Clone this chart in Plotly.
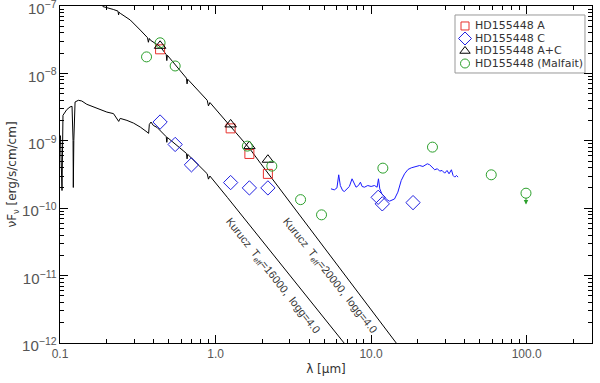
import math
import plotly.graph_objects as go

# photometry (wavelength in micron, nuFnu in erg/s/cm/cm)
wl_A = [0.44, 1.25, 1.65, 2.17]
f_A = [2.28e-8, 1.53e-9, 6.38e-10, 3.23e-10]

wl_C = [0.44, 0.55, 0.70, 1.25, 1.65, 2.17, 11.1, 11.8, 18.6]
f_C = [1.90e-9, 8.83e-10, 4.40e-10, 2.40e-10, 2.00e-10, 2.00e-10, 1.45e-10, 1.16e-10, 1.21e-10]

wl_AC = [0.44, 1.25, 1.65, 2.17]
f_AC = [2.57e-8, 1.75e-9, 8.34e-10, 5.24e-10]

wl_mal = [0.36, 0.44, 0.55, 1.60, 2.30, 3.52, 4.8, 11.9, 24.8, 59.2, 99.0]
f_mal = [1.76e-8, 2.85e-8, 1.29e-8, 8.34e-10, 4.21e-10, 1.34e-10, 7.97e-11, 3.93e-10, 8.06e-10, 3.13e-10, 1.67e-10]

# upper limit at 100 micron
ul_wl = 99.0
ul_from = 1.49e-10
ul_to = 1.13e-10

# mid-IR spectrum
wl_spec = [5.52, 5.80, 6.03, 6.19, 6.34, 6.56, 6.73, 7.00, 7.25, 7.54, 7.81, 8.00, 8.29, 8.54, 8.75,
           9.06, 9.52, 10.0, 10.5, 10.93, 11.15, 11.37, 11.72, 12.19, 12.68, 13.13, 13.59, 14.14, 14.86,
           15.62, 16.41, 17.25, 18.12, 19.04, 19.81, 20.50, 21.54, 22.98, 23.79, 24.63, 25.63, 26.66,
           27.60, 28.58, 29.72, 30.77, 31.70, 32.82, 33.65, 34.49, 35.35, 36.24]
f_spec = [1.94e-10, 1.87e-10, 2.00e-10, 3.13e-10, 2.17e-10, 1.83e-10, 1.77e-10, 1.94e-10, 2.10e-10,
          2.73e-10, 2.25e-10, 2.05e-10, 2.17e-10, 2.43e-10, 2.10e-10, 2.05e-10, 2.17e-10, 2.10e-10,
          2.17e-10, 2.05e-10, 2.73e-10, 1.94e-10, 1.63e-10, 1.46e-10, 1.33e-10, 1.27e-10, 1.30e-10,
          1.37e-10, 1.73e-10, 2.58e-10, 3.24e-10, 3.75e-10, 3.97e-10, 4.07e-10, 4.16e-10, 4.30e-10,
          4.16e-10, 4.56e-10, 4.41e-10, 4.07e-10, 3.72e-10, 3.85e-10, 3.55e-10, 3.63e-10, 3.31e-10,
          3.63e-10, 3.24e-10, 3.72e-10, 3.06e-10, 2.89e-10, 3.06e-10, 2.89e-10]

# Kurucz model, Teff=20000
wl_k20 = [0.17, 0.189, 0.220, 0.236, 0.238, 0.240, 0.244, 0.283, 0.328, 0.365, 0.370, 0.375, 0.381,
          0.442, 0.482, 0.486, 0.490, 0.552, 0.650, 0.656, 0.662, 0.884, 0.90, 0.92, 1.25, 1.66, 1.95, 14.5]
f_k20 = [1.3e-7, 9.8e-8, 8.9e-8, 8.4e-8, 7.4e-8, 8.1e-8, 7.8e-8, 6.2e-8, 4.4e-8, 3.4e-8, 2.9e-8, 3.3e-8,
         3.12e-8, 2.48e-8, 1.9e-8, 1.55e-8, 1.86e-8, 1.32e-8, 8.5e-9, 7.0e-9, 8.2e-9, 3.99e-9, 3.3e-9,
         3.7e-9, 1.60e-9, 7.62e-10, 4.61e-10, 1.0e-12]

# Kurucz model, Teff=16000
wl_k16 = [0.1007, 0.1030, 0.1045, 0.1105, 0.1160, 0.1195, 0.1213, 0.1218, 0.1227, 0.1250, 0.1312,
          0.138, 0.1487, 0.164, 0.181, 0.200, 0.2208, 0.2332, 0.2384, 0.2438, 0.2693, 0.2971, 0.328,
          0.3625, 0.3713, 0.3752, 0.3847, 0.398, 0.4206, 0.482, 0.486, 0.490, 0.552, 0.650, 0.656,
          0.662, 0.884, 0.90, 0.92, 1.19, 6.70]
f_k16 = [1.20e-9, 1.83e-10, 2.39e-9, 2.90e-9, 3.18e-9, 3.25e-9, 1.01e-9, 2.03e-10, 1.01e-9, 3.77e-9,
         3.99e-9, 3.90e-9, 3.48e-9, 3.18e-9, 2.90e-9, 2.67e-9, 2.53e-9, 2.15e-9, 1.94e-9, 2.15e-9,
         2.01e-9, 1.83e-9, 1.60e-9, 1.35e-9, 1.29e-9, 1.75e-9, 1.90e-9, 1.69e-9, 1.58e-9, 1.15e-9,
         9.5e-10, 1.12e-9, 8.83e-10, 6.5e-10, 5.4e-10, 6.3e-10, 3.24e-10, 2.7e-10, 3.0e-10, 1.45e-10, 1.0e-12]

legend_names = ["HD155448 A", "HD155448 C", "HD155448 A+C", "HD155448 (Malfait)"]

RED, BLUE, GREEN = "#e8322e", "#2020e0", "#2ca02c"
FONT = "DejaVu Sans, Arial"
TICKFONT = "Liberation Sans, Arial"

fig = go.Figure()

fig.add_trace(go.Scatter(x=wl_k20, y=f_k20, mode="lines", line=dict(color="black", width=1),
                         showlegend=False, hoverinfo="skip"))
fig.add_trace(go.Scatter(x=wl_k16, y=f_k16, mode="lines", line=dict(color="black", width=1),
                         showlegend=False, hoverinfo="skip"))
fig.add_trace(go.Scatter(x=wl_spec, y=f_spec, mode="lines", line=dict(color="#1a1aff", width=1),
                         showlegend=False))

styles = [("square-open", 9, RED), ("diamond-open", 11, BLUE),
          ("triangle-up-open", 10, "black"), ("circle-open", 10, GREEN)]
series = [(wl_A, f_A), (wl_C, f_C), (wl_AC, f_AC), (wl_mal, f_mal)]
for (sym, sz, col), (xs, ys), nm in zip(styles, series, legend_names):
    fig.add_trace(go.Scatter(x=xs, y=ys, mode="markers", name=nm, showlegend=False,
                             marker=dict(symbol=sym, size=sz, color=col, line=dict(width=1))))

# upper limit arrow
fig.add_annotation(x=math.log10(ul_wl), y=math.log10(ul_to), ax=math.log10(ul_wl), ay=math.log10(ul_from),
                   xref="x", yref="y", axref="x", ayref="y", showarrow=True, arrowhead=2,
                   arrowsize=0.9, arrowwidth=1, arrowcolor=GREEN, text="")

txtfont = dict(family="Liberation Sans, Arial", size=11, color="#333")
fig.add_annotation(x=0.368, y=-11.0, xref="x", yref="y", showarrow=False, textangle=51.5,
                   text="Kurucz  T<sub>eff</sub>=16000,  logg=4.0", font=txtfont)
fig.add_annotation(x=0.7355, y=-11.0, xref="x", yref="y", showarrow=False, textangle=51.5,
                   text="Kurucz  T<sub>eff</sub>=20000,  logg=4.0", font=txtfont)

# hand-made legend on an overlay axis (paper-like 0..1 coordinates)
lx_sym, lx_txt = 0.7613, 0.7763
ly = [0.9407, 0.9036, 0.8665, 0.8294]
for (sym, sz, col), nm, yy in zip(styles, legend_names, ly):
    fig.add_trace(go.Scatter(x=[lx_sym], y=[yy], xaxis="x2", yaxis="y2", mode="markers",
                             showlegend=False, hoverinfo="skip",
                             marker=dict(symbol=sym, size=sz - 1, color=col, line=dict(width=1))))
    fig.add_annotation(x=lx_txt, y=yy, xref="paper", yref="paper", xanchor="left", yanchor="middle",
                       showarrow=False, text=nm, font=dict(family=FONT, size=11, color="#333"))
fig.add_shape(type="rect", xref="paper", yref="paper", x0=0.7425, x1=0.9868, y0=0.8012, y1=0.9733,
              line=dict(color="#999", width=1), fillcolor="rgba(0,0,0,0)", layer="below")

axis_common = dict(showline=True, linecolor="black", linewidth=1, mirror="allticks", ticks="inside",
                   ticklen=8, tickcolor="black", showgrid=False, zeroline=False, automargin=False,
                   dtick=1, tickfont=dict(family=TICKFONT, size=12, color="#555"),
                   ticklabeloverflow="allow",
                   minor=dict(ticks="inside", ticklen=4, tickcolor="black", showgrid=False, dtick="D1"))

fig.update_xaxes(type="log", range=[-1, 2.42], tickformat=".1f",
                 title=dict(text="λ [μm]", font=dict(family=FONT, size=12, color="#333"), standoff=4),
                 **axis_common)
fig.update_yaxes(type="log", range=[-12.0005, -6.9995], exponentformat="power", ticklabelshift=3,
                 title=dict(text="νF<sub>ν</sub> [erg/s/cm/cm]",
                            font=dict(family=FONT, size=12, color="#333"), standoff=2),
                 **axis_common)

fig.update_layout(width=600, height=383, margin=dict(l=60, r=8, t=6, b=40),
                  paper_bgcolor="white", plot_bgcolor="white", showlegend=False,
                  xaxis2=dict(overlaying="x", range=[0, 1], visible=False, anchor="y2"),
                  yaxis2=dict(overlaying="y", range=[0, 1], visible=False, anchor="x2"))

# page body has a default 8px margin; remove it so the figure sits at the window origin
fig.write_html("out.html", config={"displayModeBar": False},
               post_script="document.body.style.margin='0px';")
